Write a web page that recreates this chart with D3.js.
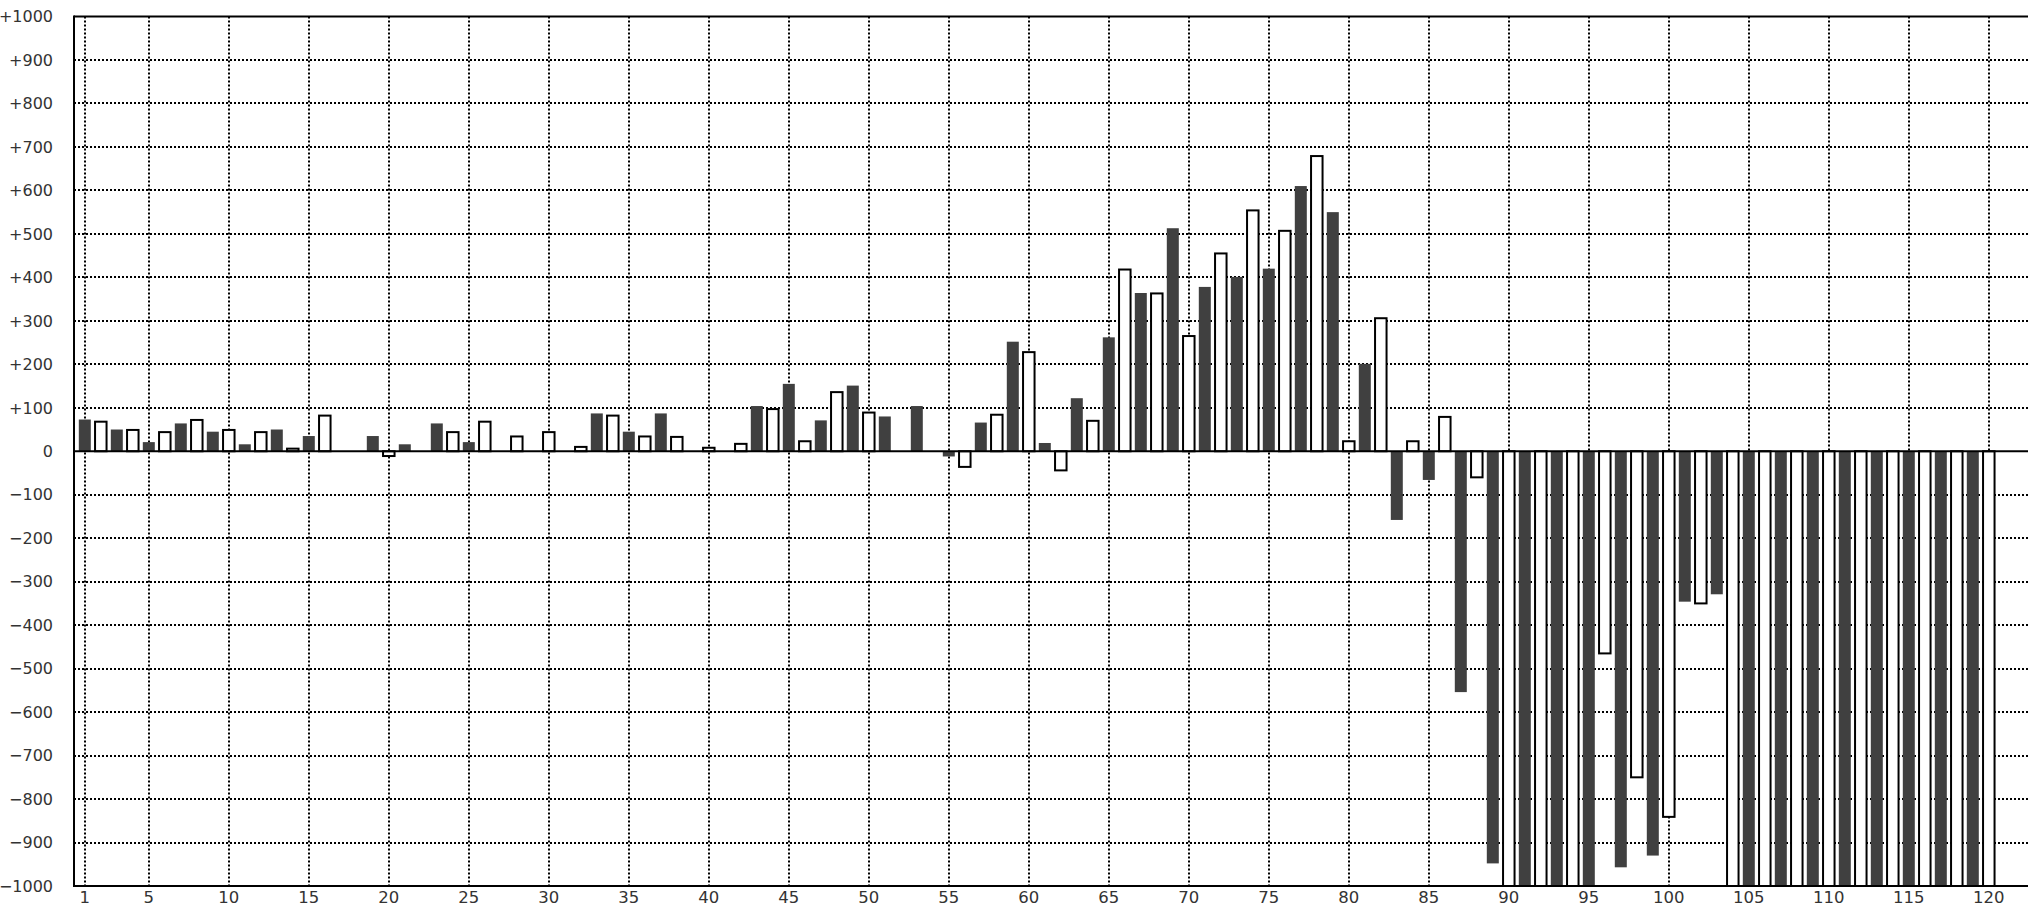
<!DOCTYPE html>
<html><head><meta charset="utf-8">
<script src="https://cdn.jsdelivr.net/npm/d3@7"></script>
<style>html,body{margin:0;padding:0;background:#fff;overflow:hidden}</style>
</head><body>
<svg id="chart" width="2028" height="908"></svg>
<script>
// ---- data ----
const categories = d3.range(1, 121);
const values = [
  73, 68, 50, 49, 21, 44, 64, 72, 45, 49,
  16, 44, 50, 6, 35, 82, 0, 0, 35, -11,
  16, 0, 64, 44, 21, 68, 0, 34, 0, 44,
  0, 10, 87, 82, 45, 34, 87, 33, 0, 8,
  0, 17, 104, 97, 155, 23, 71, 136, 151, 89,
  80, 0, 104, 0, -12, -36, 66, 84, 252, 228,
  19, -44, 122, 70, 262, 418, 364, 363, 513, 265,
  378, 455, 401, 554, 420, 507, 610, 679, 550, 23,
  201, 306, -158, 23, -66, 79, -554, -60, -948, -1000,
  -1000, -1000, -1000, -1000, -1000, -465, -957, -750, -930, -841,
  -346, -350, -329, -1000, -1000, -1000, -1000, -1000, -1000, -1000,
  -1000, -1000, -1000, -1000, -1000, -1000, -1000, -1000, -1000, -1000
];
const xTickLabels = [1, 5, 10, 15, 20, 25, 30, 35, 40, 45, 50, 55, 60, 65, 70, 75, 80, 85, 90, 95, 100, 105, 110, 115, 120];
const yTickValues = [1000, 900, 800, 700, 600, 500, 400, 300, 200, 100, 0, -100, -200, -300, -400, -500, -600, -700, -800, -900, -1000];

// ---- layout ----
const svg = d3.select('#chart');
const frameLeft = 74, frameTop = 16.5, frameBottom = 886, frameRight = 2060;
const x = d3.scaleLinear().domain([1, 120]).range([84.8, 1988.8]);
const y = d3.scaleLinear().domain([-1000, 1000]).range([frameBottom, frameTop]);
const font = "'DejaVu Sans', sans-serif";

// grid
const grid = svg.append('g').attr('stroke', '#000').attr('stroke-width', 2).attr('stroke-dasharray', '2,2');
grid.selectAll('line.h').data(yTickValues.filter(v => Math.abs(v) < 1000 && v !== 0)).join('line')
  .attr('class', 'h')
  .attr('x1', frameLeft).attr('x2', frameRight)
  .attr('y1', d => Math.round(y(d))).attr('y2', d => Math.round(y(d)));
grid.selectAll('line.v').data(xTickLabels).join('line')
  .attr('class', 'v')
  .attr('x1', d => Math.round(x(d))).attr('x2', d => Math.round(x(d)))
  .attr('y1', frameTop).attr('y2', frameBottom);

// bars
const data = categories.map((c, i) => ({ c, v: values[i], dark: c % 2 === 1 })).filter(d => d.v !== 0);
svg.append('g').selectAll('rect').data(data).join('rect')
  .attr('x', d => d.dark ? x(d.c) - 6 : x(d.c) - 5.75)
  .attr('width', d => d.dark ? 12 : 11.5)
  .attr('y', d => y(Math.max(0, d.v)))
  .attr('height', d => Math.abs(y(d.v) - y(0)))
  .attr('fill', d => d.dark ? '#404040' : '#fff')
  .attr('stroke', d => d.dark ? 'none' : '#000')
  .attr('stroke-width', 2);

// zero line
svg.append('line').attr('x1', frameLeft).attr('x2', frameRight)
  .attr('y1', y(0)).attr('y2', y(0)).attr('stroke', '#000').attr('stroke-width', 2);

// frame
const frame = svg.append('g').attr('stroke', '#000').attr('stroke-width', 2).attr('fill', 'none');
frame.append('line').attr('x1', frameLeft).attr('x2', frameRight).attr('y1', frameTop).attr('y2', frameTop);
frame.append('line').attr('x1', frameLeft).attr('x2', frameRight).attr('y1', frameBottom).attr('y2', frameBottom);
frame.append('line').attr('x1', frameLeft).attr('x2', frameLeft).attr('y1', frameTop - 1).attr('y2', frameBottom + 1);

// y labels
const fmt = v => v > 0 ? '+' + v : (v < 0 ? '\u2212' + Math.abs(v) : '0');
svg.append('g').selectAll('text').data(yTickValues).join('text')
  .attr('x', 53).attr('y', d => y(d)).attr('dy', '0.36em')
  .attr('text-anchor', 'end')
  .attr('font-family', font).attr('font-size', 16).attr('fill', '#333')
  .text(fmt);

// x labels
svg.append('g').selectAll('text').data(xTickLabels).join('text')
  .attr('x', d => x(d)).attr('y', 903)
  .attr('text-anchor', 'middle')
  .attr('font-family', font).attr('font-size', 16.5).attr('fill', '#333')
  .text(d => d);
</script>
</body></html>
